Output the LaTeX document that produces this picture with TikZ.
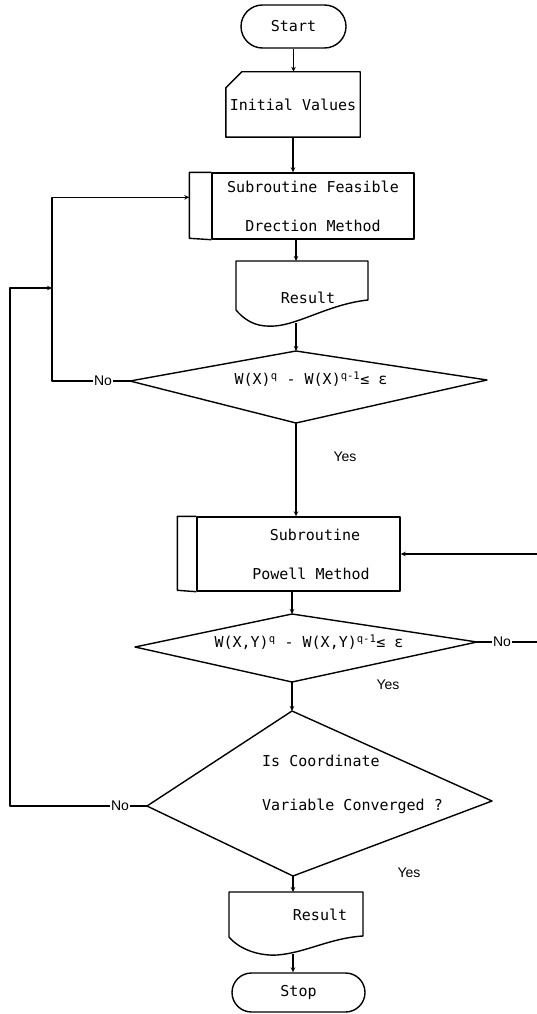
\documentclass[tikz,border=0pt]{standalone}
\usepackage{fontspec}
\newfontfamily\monof{DejaVu Sans Mono}
\newfontfamily\labf{Liberation Sans}
\usetikzlibrary{shapes.misc,arrows.meta,calc}
\tikzset{
  ln/.style={line width=1.4pt, line join=round},
  arr/.style={ln, -{Stealth[length=5pt,width=4.5pt]}},
  txt/.style={font=\monof\fontsize{15}{18}\selectfont, inner sep=0pt},
  txttwo/.style={font=\monof\fontsize{15}{39}\selectfont, align=center, inner sep=0pt},
  lab/.style={font=\labf\fontsize{14}{16}\selectfont, inner sep=1pt},
  term/.style={rounded rectangle, draw, ln, txt, minimum width=105, minimum height=43},
}
\begin{document}
\begin{tikzpicture}[x=1pt,y=-1pt]
\useasboundingbox (0,0) rectangle (536,1014);

% Start
\node[term] (start) at (293.5,26.5) {Start};

% Initial Values (card)
\node[txt, minimum width=134, minimum height=65] (init) at (293,104.5) {Initial Values};
\draw[ln] ($(init.north west)+(16,0)$) -- (init.north east) -- (init.south east)
  -- (init.south west) -- ($(init.north west)+(0,16)$) -- cycle;
\draw[arr] (start.south) -- (start.south |- init.north);

% Subroutine Feasible Direction Method
\node[txttwo, draw, ln, minimum width=202, minimum height=66] (feas) at (313,206)
  {Subroutine Feasible\\Drection Method};
\draw[ln] (feas.north west) -- ++(-22,0) coordinate (feasNW) -- ++(0,66) -- (feas.south west);
\coordinate (feasin) at ($(feasNW)+(0,25)$);
\draw[arr] (init.south) -- (init.south |- feas.north);

% Result 1 (document)
\draw[ln] (236,310) -- (236,261) -- (368,261) -- (368,300)
  .. controls (330,304) and (300,324) .. (275,326)
  .. controls (260,327) and (248,324) .. (236,310);
\node[txt] (res1) at (308,298) {Result};
\coordinate (r1top) at (296,261);
\coordinate (r1bot) at (296,323);
\draw[arr] (feas.south -| r1top) -- (r1top);

% Decision 1
\coordinate (d1t) at (296,351);
\coordinate (d1r) at (487,380);
\coordinate (d1b) at (296,423);
\coordinate (d1l) at (130,381);
\draw[ln] (d1t) -- (d1r) -- (d1b) -- (d1l) -- cycle;
\node[txt] (d1) at (311,379) {W(X)\textsuperscript{q} - W(X)\textsuperscript{q-1}≤ ε};
\draw[arr] (r1bot) -- (d1t);

\node[lab] (no1) at (103,381) {No};
\draw[ln] (d1l) -- (no1.east);
\coordinate (lp1) at (52,381);
\draw[arr] (no1.west) -- (lp1) -- (lp1 |- feasin) -- (feasin);
\node[lab] (yes1) at (345,457) {Yes};

% Subroutine Powell Method
\node[txttwo, draw, ln, minimum width=203, minimum height=74] (pow) at (298.5,554)
  {\hspace*{33pt}Subroutine\\\hspace*{25pt}Powell Method};
\draw[ln] (pow.north west) -- ++(-19,0) -- ++(0,74) -- (pow.south west);
\draw[arr] (d1b) -- (d1b |- pow.north);

% Decision 2
\coordinate (d2t) at (292,614);
\coordinate (d2r) at (477,642);
\coordinate (d2b) at (292,682);
\coordinate (d2l) at (135,647);
\draw[ln] (d2t) -- (d2r) -- (d2b) -- (d2l) -- cycle;
\node[txt] (d2) at (309,642) {W(X,Y)\textsuperscript{q} - W(X,Y)\textsuperscript{q-1}≤ ε};
\draw[arr] (pow.south -| d2t) -- (d2t);
\node[lab] (no2) at (502,642) {No};
\draw[ln] (d2r) -- (no2.west);
\coordinate (rt) at (538,642);
\draw[arr] (no2.east) -- (rt) -- (rt |- pow.east) -- (pow.east);
\node[lab] (yes2) at (388,685) {Yes};

% Decision 3
\coordinate (d3t) at (292,711);
\coordinate (d3r) at (492,801);
\coordinate (d3b) at (293,876);
\coordinate (d3l) at (147,806);
\draw[ln] (d3t) -- (d3r) -- (d3b) -- (d3l) -- cycle;
\node[font=\monof\fontsize{15}{44}\selectfont, align=left, anchor=west, inner sep=0pt] (d3)
  at (262,784) {Is Coordinate\\Variable Converged ?};
\draw[arr] (d2b) -- (d3t);
\node[lab] (no3) at (120,806) {No};
\draw[ln] (d3l) -- (no3.east);
\coordinate (lp2) at (10,806);
\coordinate (jn) at (52,288);
\draw[arr] (no3.west) -- (lp2) -- (lp2 |- jn) -- (jn);
\node[lab] (yes3) at (409,873) {Yes};

% Result 2 (document)
\draw[ln] (229,937) -- (229,892) -- (363,892) -- (363,936)
  .. controls (330,938) and (305,953) .. (277,955)
  .. controls (260,956) and (240,950) .. (229,937);
\node[txt] (res2) at (320,915) {Result};
\coordinate (r2top) at (293,892);
\coordinate (r2bot) at (293,954);
\draw[arr] (d3b) -- (r2top);

% Stop
\node[term, minimum width=133, minimum height=39] (stop) at (298.5,992.5) {Stop};
\draw[arr] (r2bot) -- (r2bot |- stop.north);
\end{tikzpicture}
\end{document}
